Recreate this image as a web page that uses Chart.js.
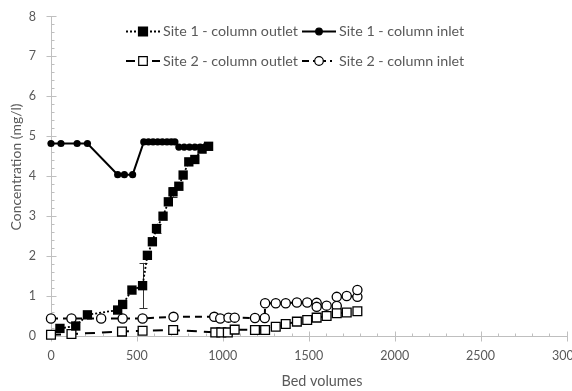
<!DOCTYPE html>
<html><head><meta charset="utf-8">
<script src="https://cdn.jsdelivr.net/npm/chart.js@4.4.0/dist/chart.umd.min.js"></script>
<style>
html,body{margin:0;padding:0;background:#fff;overflow:hidden;width:572px;height:391px}
#wrap{position:relative;width:593px;height:391px}
</style></head>
<body><div id="wrap"><canvas id="c" width="593" height="391"></canvas></div>
<script>
// ---- data ----
const xTitle = "Bed volumes";
const yTitle = "Concentration (mg/l)";
const seriesNames = ["Site 1 - column outlet", "Site 1 - column inlet", "Site 2 - column outlet", "Site 2 - column inlet"];

const s1OutletX = [52, 144, 212, 388, 417, 471, 533, 561, 590, 614, 652, 683, 710, 744, 769, 802, 837, 879, 917];
const s1OutletY = [0.19, 0.25, 0.53, 0.65, 0.79, 1.15, 1.26, 2.02, 2.36, 2.69, 3.0, 3.36, 3.61, 3.75, 4.03, 4.36, 4.42, 4.68, 4.75];
const s1OutletErr = [0, 0, 0, 0, 0, 0, 0.57, 0, 0, 0.12, 0, 0, 0.12, 0, 0, 0, 0, 0, 0];

const s1InletX = [0, 58, 152, 212, 388, 427, 475, 540, 567, 594, 621, 648, 675, 700, 721, 744, 775, 806, 837, 868, 899, 921];
const s1InletY = [4.82, 4.82, 4.82, 4.82, 4.04, 4.04, 4.04, 4.86, 4.86, 4.86, 4.86, 4.86, 4.86, 4.86, 4.86, 4.73, 4.73, 4.73, 4.73, 4.73, 4.74, 4.76];

const s2OutletX = [0, 119, 413, 533, 711, 956, 991, 1029, 1069, 1187, 1246, 1308, 1366, 1431, 1491, 1546, 1604, 1663, 1721, 1783];
const s2OutletY = [0.03, 0.05, 0.11, 0.13, 0.15, 0.09, 0.09, 0.09, 0.16, 0.15, 0.15, 0.23, 0.3, 0.36, 0.4, 0.46, 0.5, 0.57, 0.59, 0.62];

const s2InletX = [0, 119, 292, 417, 533, 713, 950, 985, 1033, 1069, 1187, 1244, 1246, 1308, 1366, 1431, 1491, 1546, 1546, 1604, 1663, 1663, 1721, 1783, 1783];
const s2InletY = [0.44, 0.44, 0.44, 0.44, 0.44, 0.48, 0.48, 0.44, 0.46, 0.46, 0.45, 0.45, 0.82, 0.82, 0.82, 0.84, 0.84, 0.83, 0.73, 0.76, 0.75, 0.98, 1.0, 0.98, 1.15];

const xMin = 0, xMax = 3000, xMajor = 500, xMinor = 100;
const yMin = 0, yMax = 8, yMajor = 1, yMinor = 0.2;

// ---- helpers ----
function pts(xs, ys) { return xs.map((x, i) => ({ x: x, y: ys[i] })); }
const FONT = "Lato, 'Open Sans', sans-serif";
const GREY_TXT = '#595959';
const AXIS = '#bfbfbf';

function fitFont(ctx, text, target) {
  ctx.font = '12px ' + FONT;
  const w = ctx.measureText(text).width;
  return 12 * target / w;
}

const errorBars = {
  id: 'errorBars',
  beforeDatasetsDraw(chart) {
    const ctx = chart.ctx, xs = chart.scales.x, ys = chart.scales.y;
    ctx.save();
    ctx.strokeStyle = '#333';
    ctx.lineWidth = 1;
    s1OutletX.forEach((x, i) => {
      const e = s1OutletErr[i];
      if (!e) return;
      const px = Math.round(xs.getPixelForValue(x)) + 0.5;
      const y1 = ys.getPixelForValue(s1OutletY[i] + e);
      const y2 = ys.getPixelForValue(s1OutletY[i] - e);
      ctx.beginPath();
      ctx.moveTo(px, y1); ctx.lineTo(px, y2);
      ctx.moveTo(px - 4, Math.round(y1) + 0.5); ctx.lineTo(px + 4, Math.round(y1) + 0.5);
      ctx.moveTo(px - 4, Math.round(y2) + 0.5); ctx.lineTo(px + 4, Math.round(y2) + 0.5);
      ctx.stroke();
    });
    ctx.restore();
  }
};

const axisDeco = {
  id: 'axisDeco',
  beforeDatasetsDraw(chart) {
    const ctx = chart.ctx, xs = chart.scales.x, ys = chart.scales.y;
    const a = chart.chartArea;
    ctx.save();
    ctx.strokeStyle = AXIS;
    ctx.lineWidth = 1;
    ctx.beginPath();
    const yb = Math.round(a.bottom) + 0.5;
    for (let v = xMin; v <= xMax + 1e-9; v += xMinor) {
      const px = Math.round(xs.getPixelForValue(v)) + 0.5;
      const major = Math.abs(v / xMajor - Math.round(v / xMajor)) < 1e-6;
      if (major) { ctx.moveTo(px, yb - 5); ctx.lineTo(px, yb + 5); }
      else { ctx.moveTo(px, yb - 3); ctx.lineTo(px, yb); }
    }
    const xl = Math.round(a.left) + 0.5;
    for (let v = yMin; v <= yMax + 1e-9; v += yMinor) {
      const py = Math.round(ys.getPixelForValue(v)) + 0.5;
      const major = Math.abs(v / yMajor - Math.round(v / yMajor)) < 1e-6;
      if (major) { ctx.moveTo(xl - 5, py); ctx.lineTo(xl + 5, py); }
      else { ctx.moveTo(xl, py); ctx.lineTo(xl + 3, py); }
    }
    ctx.stroke();
    ctx.restore();
  },
  afterDraw(chart) {
    const ctx = chart.ctx, a = chart.chartArea;
    ctx.save();
    ctx.fillStyle = GREY_TXT;
    ctx.textAlign = 'center';
    ctx.textBaseline = 'middle';
    ctx.font = fitFont(ctx, xTitle, 81).toFixed(2) + 'px ' + FONT;
    ctx.fillText(xTitle, 322, 381);
    ctx.font = fitFont(ctx, yTitle, 127).toFixed(2) + 'px ' + FONT;
    ctx.translate(16, 167);
    ctx.rotate(-Math.PI / 2);
    ctx.fillText(yTitle, 0, 0);
    ctx.restore();

    // legend
    const items = [
      { x: 126, y: 31.5, dash: [2, 2], lw: 2, style: 'rect', fill: '#000', r: 4.5 },
      { x: 302, y: 31.5, dash: [], lw: 2, style: 'circle', fill: '#000', r: 3.3 },
      { x: 126, y: 61, dash: [9, 4], lw: 2, style: 'rect', fill: '#fff', r: 4.3 },
      { x: 302, y: 61, dash: [7, 4, 2, 4], lw: 2, style: 'circle', fill: '#fff', r: 4.3 }
    ];
    const legSize = fitFont(ctx, seriesNames[0], 135);
    ctx.save();
    items.forEach((it, i) => {
      const w = 34, cx = it.x + w / 2;
      ctx.strokeStyle = '#000';
      ctx.lineWidth = it.lw;
      ctx.setLineDash(it.dash);
      ctx.beginPath(); ctx.moveTo(it.x, it.y); ctx.lineTo(it.x + w, it.y); ctx.stroke();
      ctx.setLineDash([]);
      ctx.lineWidth = 1.2;
      ctx.fillStyle = it.fill;
      ctx.beginPath();
      if (it.style === 'rect') ctx.rect(cx - it.r, it.y - it.r, it.r * 2, it.r * 2);
      else ctx.arc(cx, it.y, it.r, 0, Math.PI * 2);
      ctx.fill(); ctx.stroke();
      ctx.fillStyle = GREY_TXT;
      ctx.font = legSize.toFixed(2) + 'px ' + FONT;
      ctx.textAlign = 'left';
      ctx.textBaseline = 'middle';
      ctx.fillText(seriesNames[i], it.x + w + 3, it.y);
    });
    ctx.restore();
  }
};

new Chart(document.getElementById('c'), {
  type: 'scatter',
  data: {
    datasets: [
      { label: seriesNames[0], data: pts(s1OutletX, s1OutletY), showLine: true, borderColor: '#000', borderWidth: 1.8, borderDash: [2, 2],
        pointStyle: 'rect', pointRadius: 6.6, pointHoverRadius: 6.6, backgroundColor: '#000', pointBorderWidth: 0, clip: false, order: 1 },
      { label: seriesNames[1], data: pts(s1InletX, s1InletY), showLine: true, borderColor: '#000', borderWidth: 2,
        pointStyle: 'circle', pointRadius: 3.6, pointHoverRadius: 3.6, backgroundColor: '#000', pointBorderWidth: 0, clip: false, order: 2 },
      { label: seriesNames[2], data: pts(s2OutletX, s2OutletY), showLine: true, borderColor: '#000', borderWidth: 2, borderDash: [10, 7],
        pointStyle: 'rect', pointRadius: 6.2, pointHoverRadius: 6.2, backgroundColor: '#fff', pointBorderColor: '#000', pointBorderWidth: 1.3, clip: false, order: 3 },
      { label: seriesNames[3], data: pts(s2InletX, s2InletY), showLine: true, borderColor: '#000', borderWidth: 2, borderDash: [7, 5],
        pointStyle: 'circle', pointRadius: 4.6, pointHoverRadius: 4.6, backgroundColor: '#fff', pointBorderColor: '#000', pointBorderWidth: 1.3, clip: false, order: 4 }
    ]
  },
  options: {
    responsive: false,
    animation: false,
    devicePixelRatio: 1,
    layout: { padding: { top: 16.5, right: 0, left: 0, bottom: 0 } },
    plugins: { legend: { display: false }, tooltip: { enabled: false } },
    scales: {
      x: {
        type: 'linear', min: xMin, max: xMax,
        afterFit: s => { s.height = 55; },
        grid: { display: false, drawTicks: false, tickLength: 0 },
        border: { display: true, color: AXIS, width: 1 },
        ticks: { stepSize: xMajor, color: GREY_TXT, font: { family: FONT, size: 12.5 }, padding: 12, maxRotation: 0,
                 callback: v => String(v) }
      },
      y: {
        type: 'linear', min: yMin, max: yMax,
        afterFit: s => { s.width = 51; s.paddingTop = 0; s.paddingBottom = 0; },
        grid: { display: false, drawTicks: false, tickLength: 0 },
        border: { display: true, color: AXIS, width: 1 },
        ticks: { stepSize: yMajor, color: GREY_TXT, font: { family: FONT, size: 12.5 }, padding: 15 }
      }
    }
  },
  plugins: [axisDeco, errorBars]
});
</script>
</body></html>
